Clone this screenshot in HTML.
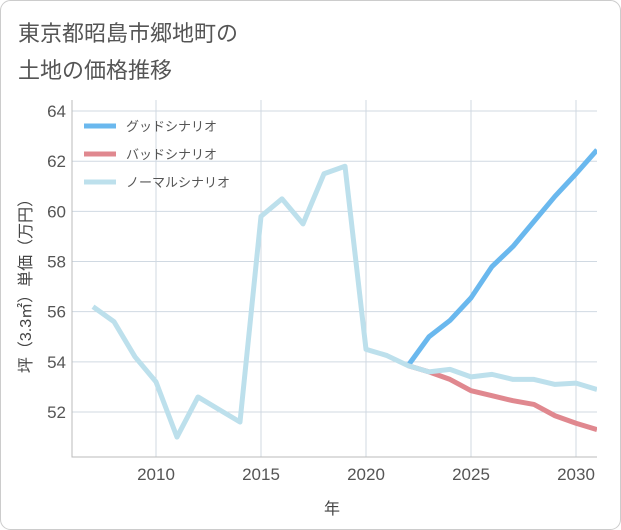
<!DOCTYPE html>
<html><head><meta charset="utf-8"><style>
body{margin:0;background:#fff;}
svg{display:block;font-family:"Liberation Sans","Noto Sans CJK JP",sans-serif;}
</style></head><body>
<svg id="c" width="621" height="530">
<rect x="0.5" y="0.5" width="620" height="529" rx="10" fill="#fff" stroke="#ccc"/>
<text x="18" y="41" font-size="22" fill="#555">東京都昭島市郷地町の</text>
<text x="18" y="78" font-size="22" fill="#555">土地の価格推移</text>
<g id="plot"></g>
<text x="332" y="514" font-size="16" fill="#444" text-anchor="middle">年</text>
<text transform="translate(31,282) rotate(-90)" font-size="16" fill="#444" text-anchor="middle">坪（3.3㎡）単価（万円）</text>
</svg>
<script>
const years=[2007,2008,2009,2010,2011,2012,2013,2014,2015,2016,2017,2018,2019,2020,2021,2022,2023,2024,2025,2026,2027,2028,2029,2030,2031];
const normalVals=[56.2,55.6,54.2,53.2,51.0,52.6,52.1,51.6,59.8,60.5,59.5,61.5,61.8,54.5,54.25,53.85,53.6,53.7,53.4,53.5,53.3,53.3,53.1,53.15,52.9];
const futureYears=[2022,2023,2024,2025,2026,2027,2028,2029,2030,2031];
const goodVals=[53.85,55.0,55.65,56.55,57.8,58.6,59.6,60.6,61.5,62.45];
const badVals=[53.85,53.6,53.3,52.85,52.65,52.45,52.3,51.85,51.55,51.3];
const xTicks=[2010,2015,2020,2025,2030];
const yTicks=[52,54,56,58,60,62,64];
const seriesNames=["グッドシナリオ","バッドシナリオ","ノーマルシナリオ"];
const L=72,R=597,T=100,B=457;
const x=v=>156+(v-2010)*21;
const y=v=>412-(v-52)*25.08;
const g=document.getElementById('plot');
const NS='http://www.w3.org/2000/svg';
function mk(t,a){const e=document.createElementNS(NS,t);for(const k in a)e.setAttribute(k,a[k]);g.appendChild(e);return e;}
xTicks.forEach(v=>{
const l=mk('line',{x1:x(v),x2:x(v),y1:T,y2:B,stroke:'#d0d9e2'});


const t=mk('text',{x:x(v),y:B+23,'font-size':17,fill:'#555','text-anchor':'middle'});t.textContent=v;


});
yTicks.forEach(v=>{
const l=mk('line',{x1:L,x2:R,y1:y(v),y2:y(v),stroke:'#d0d9e2'});


const t=mk('text',{x:L-6,y:y(v)+6,'font-size':17,fill:'#555','text-anchor':'end'});t.textContent=v;


});
const ax=mk('path',{d:`M${L},${T}V${B}H${R}`,fill:'none',stroke:'#bbb'});


const clip=document.createElementNS(NS,'clipPath');clip.id='cp';
const cr=document.createElementNS(NS,'rect');cr.setAttribute('x',L);cr.setAttribute('y',T);cr.setAttribute('width',R-L);cr.setAttribute('height',B-T);clip.appendChild(cr);g.appendChild(clip);
function line(xs,ys,col,name){
const p=mk('path',{d:xs.map((v,i)=>(i?'L':'M')+x(v)+','+y(ys[i])).join(''),fill:'none',stroke:col,'stroke-width':5,'stroke-linejoin':'round','clip-path':'url(#cp)'});


}
line(futureYears,badVals,'#e0888f','bad-scenario-line');
line(futureYears,goodVals,'#6ab8ee','good-scenario-line');
line(years,normalVals,'#bde0ec','normal-scenario-line');
const cols=['#6ab8ee','#e0888f','#bde0ec'];
seriesNames.forEach((n,i)=>{
const yy=126+i*28;
const l=mk('line',{x1:84,x2:116,y1:yy,y2:yy,stroke:cols[i],'stroke-width':5});


const t=mk('text',{x:126,y:yy+5,'font-size':13,fill:'#555'});t.textContent=n;


});
</script>
</body></html>
